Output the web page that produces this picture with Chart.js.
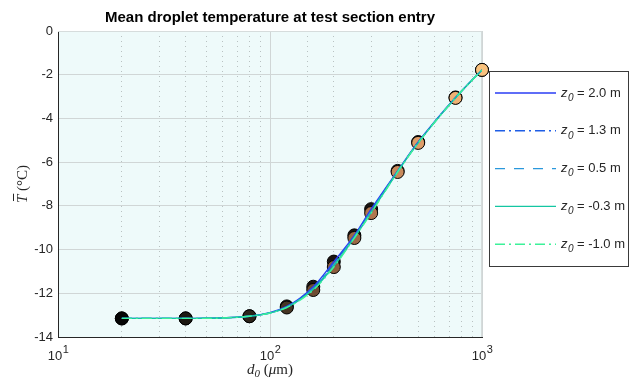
<!DOCTYPE html>
<html>
<head>
<meta charset="utf-8">
<script src="https://cdn.jsdelivr.net/npm/chart.js@4"></script>
<style>
  html, body { margin: 0; padding: 0; background: #fff; }
  #wrap { width: 631px; height: 379px; }
</style>
</head>
<body>
<div id="wrap"><canvas id="myChart" width="631" height="379"></canvas></div>
<script>
// droplet diameters (um)
const diameters = [20, 40, 80, 120, 160, 200, 250, 300, 400, 500, 750, 1000];

// mean droplet temperature (C) for each release height
const tZ20 = [-13.15, -13.15, -13.05, -12.60, -11.70, -10.55, -9.35, -8.15, -6.40, -5.08, -3.04, -1.78];
const tZ13 = [-13.15, -13.15, -13.05, -12.62, -11.74, -10.62, -9.39, -8.20, -6.42, -5.10, -3.05, -1.78];
const tZ05 = [-13.15, -13.15, -13.05, -12.63, -11.78, -10.68, -9.42, -8.25, -6.43, -5.11, -3.05, -1.78];
const tZm03 = [-13.15, -13.15, -13.05, -12.64, -11.82, -10.75, -9.45, -8.30, -6.44, -5.12, -3.06, -1.78];
const tZm10 = [-13.15, -13.15, -13.05, -12.65, -11.85, -10.80, -9.47, -8.33, -6.45, -5.12, -3.06, -1.78];

const seriesLabels = ['2.0', '1.3', '0.5', '-0.3', '-1.0'];
const yTicks = [-14, -12, -10, -8, -6, -4, -2, 0];
const xDecades = [1, 2, 3];

const lineColors = ['#2a3cf4', '#1f5ee6', '#2a98dc', '#14c6a2', '#3cf29a'];
const lineDashes = [[], [10, 4, 2, 4], [10, 9], [], [10, 4, 2, 4]];
const markerColors = ['#050505', '#1c1812', '#2c241a', '#463524', '#6e4c33', '#8c5d3e',
                      '#9c6846', '#b07650', '#c88a5c', '#dd9d68', '#efb174', '#f9c27e'];

function pts(ys){
    return diameters.map((d, i) => ({x: d, y: ys[i]}));
}

function isMajor(v){
    const l = Math.log10(v);
    return Math.abs(l - Math.round(l)) < 1e-9;
}

const allSeries = [tZ20, tZ13, tZ05, tZm03, tZm10];

const datasets = allSeries.map((ys, i) => ({
    label: 'z0 = ' + seriesLabels[i] + ' m',
    data: pts(ys),
    borderColor: lineColors[i],
    borderWidth: 1.4,
    borderDash: lineDashes[i],
    pointRadius: 0,
    cubicInterpolationMode: 'monotone',
    fill: false,
    order: 5 - i
}));

// markers for the top height (drawn underneath)
datasets.push({
    label: 'markersBack',
    data: pts(tZ20),
    showLine: false,
    clip: false,
    pointRadius: 6.5,
    pointBackgroundColor: '#1a1410',
    pointBorderColor: '#000',
    pointBorderWidth: 1,
    order: 11
});
datasets.push({
    label: 'markersFront',
    data: pts(tZm10),
    showLine: false,
    clip: false,
    pointRadius: 6.5,
    pointBackgroundColor: markerColors,
    pointBorderColor: '#000',
    pointBorderWidth: 1,
    order: 10
});

const bgPlugin = {
    id: 'bg',
    beforeDraw(chart){
        const a = chart.chartArea;
        const c = chart.ctx;
        c.save();
        c.fillStyle = '#eefafa';
        c.fillRect(a.left, a.top, a.right - a.left, a.bottom - a.top);
        c.restore();
    }
};

const textPlugin = {
    id: 'texts',
    afterDraw(chart){
        const c = chart.ctx;
        const a = chart.chartArea;
        const xs = chart.scales.x;
        c.save();

        // title
        c.fillStyle = '#000';
        c.font = 'bold 15px "Liberation Sans", Arial, sans-serif';
        c.textAlign = 'center';
        c.textBaseline = 'middle';
        c.fillText('Mean droplet temperature at test section entry', (a.left + a.right) / 2, 18);

        // x tick labels 10^n
        c.fillStyle = '#262626';
        xDecades.forEach(p => {
            const px = xs.getPixelForValue(Math.pow(10, p));
            c.font = '13px "Liberation Sans", Arial, sans-serif';
            const wb = c.measureText('10').width;
            c.font = '11px "Liberation Sans", Arial, sans-serif';
            const ws = c.measureText(String(p)).width;
            const x0 = px - (wb + ws) / 2;
            c.textAlign = 'left';
            c.textBaseline = 'alphabetic';
            c.font = '13px "Liberation Sans", Arial, sans-serif';
            c.fillText('10', x0, 360);
            c.font = '11px "Liberation Sans", Arial, sans-serif';
            c.fillText(String(p), x0 + wb + 0.5, 353);
        });

        // x axis label: d0 (um)
        c.fillStyle = '#262626';
        const serif = '"Liberation Serif", "DejaVu Serif", serif';
        const parts = [
            ['italic 15px ' + serif, 'd', 0],
            ['italic 11px ' + serif, '0', 3],
            ['15px ' + serif, ' (', 0],
            ['italic 15px ' + serif, 'μ', 0],
            ['15px ' + serif, 'm)', 0]
        ];
        let tw = 0;
        parts.forEach(p => { c.font = p[0]; tw += c.measureText(p[1]).width; });
        let cx = (a.left + a.right) / 2 - tw / 2;
        c.textAlign = 'left';
        c.textBaseline = 'alphabetic';
        parts.forEach(p => {
            c.font = p[0];
            c.fillText(p[1], cx, 374 + p[2]);
            cx += c.measureText(p[1]).width;
        });

        // y axis label: T-bar (C), rotated
        c.save();
        c.translate(27, (a.top + a.bottom) / 2);
        c.rotate(-Math.PI / 2);
        const yparts = [
            ['italic 15px ' + serif, 'T'],
            ['15px ' + serif, ' (°C)']
        ];
        let yw = 0;
        yparts.forEach(p => { c.font = p[0]; yw += c.measureText(p[1]).width; });
        let ty = -yw / 2;
        yparts.forEach((p, i) => {
            c.font = p[0];
            const w = c.measureText(p[1]).width;
            c.fillText(p[1], ty, 0);
            if (i === 0) {
                c.strokeStyle = '#262626';
                c.lineWidth = 1;
                c.beginPath();
                c.moveTo(ty + 2, -13.5);
                c.lineTo(ty + w + 1, -13.5);
                c.stroke();
            }
            ty += w;
        });
        c.restore();
        c.restore();
    }
};

// light frame on top / right and the legend box, under the data
const framePlugin = {
    id: 'frame',
    beforeDatasetsDraw(chart){
        const c = chart.ctx;
        const a = chart.chartArea;
        c.save();
        c.strokeStyle = '#d6dcdc';
        c.lineWidth = 1;
        c.beginPath();
        c.moveTo(a.left, a.top + 0.5);
        c.lineTo(a.right - 0.5, a.top + 0.5);
        c.lineTo(a.right - 0.5, a.bottom);
        c.stroke();

        // legend
        const lx = 489, ly = 71, lw = 139, lh = 195;
        c.fillStyle = '#fff';
        c.fillRect(lx, ly, lw, lh);
        c.strokeStyle = '#3a3a3a';
        c.lineWidth = 1;
        c.strokeRect(lx + 0.5, ly + 0.5, lw, lh);
        for (let i = 0; i < seriesLabels.length; i++) {
            const yy = 93 + i * 37.8;
            c.strokeStyle = lineColors[i];
            c.lineWidth = 1.4;
            c.setLineDash(lineDashes[i]);
            c.beginPath();
            c.moveTo(495, yy);
            c.lineTo(556, yy);
            c.stroke();
            c.setLineDash([]);
            c.fillStyle = '#262626';
            c.textAlign = 'left';
            c.textBaseline = 'middle';
            c.font = 'italic 13px "Liberation Sans", Arial, sans-serif';
            c.fillText('z', 561, yy);
            c.font = 'italic 10px "Liberation Sans", Arial, sans-serif';
            c.fillText('0', 568, yy + 5);
            c.font = '13px "Liberation Sans", Arial, sans-serif';
            c.fillText('= ' + seriesLabels[i] + ' m', 577, yy);
        }
        c.restore();
    }
};

const ctx = document.getElementById('myChart').getContext('2d');
const myChart = new Chart(ctx, {
    type: 'line',
    data: { datasets: datasets },
    options: {
        responsive: false,
        animation: false,
        layout: { padding: { top: 31, right: 149, left: 0, bottom: 0 } },
        plugins: {
            legend: { display: false },
            title: { display: false },
            tooltip: { enabled: false }
        },
        scales: {
            x: {
                type: 'logarithmic',
                min: 10,
                max: 1000,
                ticks: { display: false, autoSkip: false },
                grid: {
                    drawTicks: false,
                    color: c => (c.tick && isMajor(c.tick.value)) ? '#d0d6d6' : 'rgba(0,0,0,0)',
                    lineWidth: 1
                },
                border: { display: true, color: '#262626', width: 1 },
                afterFit: s => { s.height = 42; }
            },
            x2: {
                type: 'logarithmic',
                position: 'bottom',
                min: 10,
                max: 1000,
                ticks: { display: false, autoSkip: false },
                grid: {
                    drawTicks: false,
                    color: c => (c.tick && !isMajor(c.tick.value)) ? '#b9c2c2' : 'rgba(0,0,0,0)',
                    lineWidth: 1
                },
                border: { display: false, dash: [1, 4] },
                afterFit: s => { s.height = 0; }
            },
            y: {
                min: -14,
                max: 0,
                afterBuildTicks: s => { s.ticks = yTicks.map(v => ({value: v})); },
                ticks: {
                    color: '#262626',
                    padding: 5,
                    font: { family: '"Liberation Sans", Arial, sans-serif', size: 13 }
                },
                grid: {
                    drawTicks: false,
                    color: '#d0d6d6'
                },
                border: { display: true, color: '#262626', width: 1 },
                afterFit: s => { s.width = 58; }
            }
        }
    },
    plugins: [bgPlugin, framePlugin, textPlugin]
});
</script>
</body>
</html>
